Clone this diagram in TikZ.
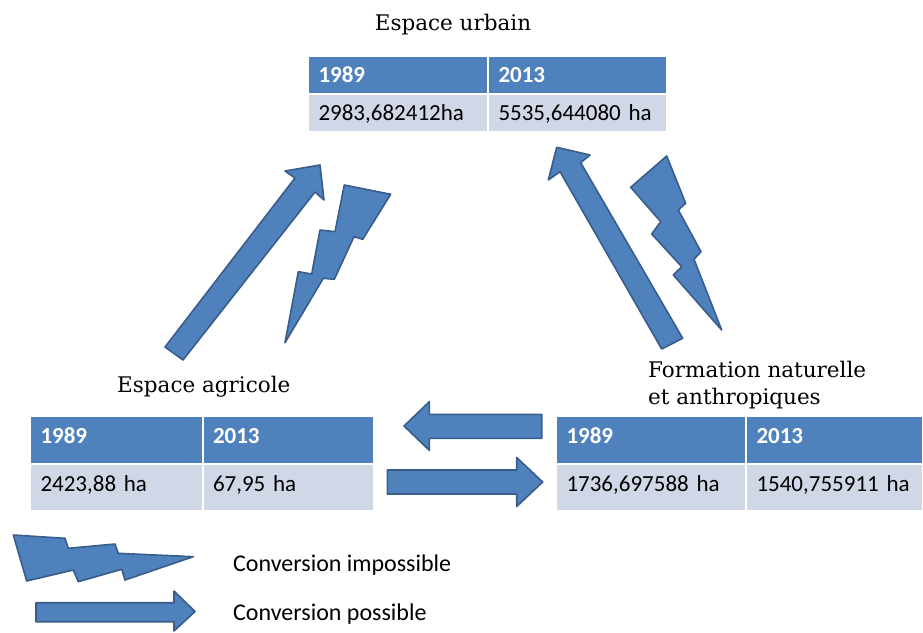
\documentclass[tikz,border=0pt]{standalone}
\usepackage{fontspec}
\setmainfont{DejaVu Serif}
\newfontfamily\calib{Carlito}
\definecolor{arrF}{HTML}{4F81BD}
\definecolor{arrD}{HTML}{385D8A}
\definecolor{bodyC}{HTML}{D0D8E8}
\begin{document}
\begin{tikzpicture}[x=1pt,y=-1pt,
  blk/.style={fill=arrF, draw=arrD, line width=1.6pt, line join=round},
  cellbase/.style={anchor=north west, draw=white, line width=2pt, inner xsep=10.5pt, inner ysep=0pt, align=left},
  hd/.style={cellbase, fill=arrF, text=white, font=\calib\bfseries\fontsize{23}{27}\selectfont},
  bd/.style={cellbase, fill=bodyC, text=black, font=\calib\fontsize{23}{27}\selectfont},
  topc/.style={text height=18pt, text depth=3pt, minimum height=38pt},
  botc/.style={text height=14pt, text depth=6.5pt, minimum height=47.5pt},
  ttl/.style={inner sep=0pt, font=\fontsize{21.5}{24}\selectfont},
  leg/.style={inner sep=0pt, anchor=base west, font=\calib\fontsize{24}{28}\selectfont}]
\useasboundingbox (0,0) rectangle (923,632);

% ---- titles
\node[ttl, anchor=base] (turb) at (453,30) {Espace urbain};
\node[ttl, anchor=base west] (tagr) at (117,392) {Espace agricole};
\node[ttl, anchor=base west] (tfor1) at (648,377) {Formation naturelle};
\node[ttl, anchor=base west] (tfor2) at (648,404) {et anthropiques};

% ---- top table (urbain)
\node[hd, topc, minimum width=180pt, text width=159pt] (uh1) at (307,55) {1989};
\node[hd, topc, minimum width=179pt, text width=158pt] (uh2) at (487,55) {2013};
\node[bd, topc, minimum width=180pt, text width=159pt] (ub1) at (307,93) {2983,682412ha};
\node[bd, topc, minimum width=179pt, text width=158pt] (ub2) at (487,93) {5535,644080 ha};

% ---- left table (agricole)
\node[hd, botc, minimum width=172.5pt, text width=151.5pt] (ah1) at (29,415) {1989};
\node[hd, botc, minimum width=171.5pt, text width=150.5pt] (ah2) at (201.5,415) {2013};
\node[bd, botc, minimum width=172.5pt, text width=151.5pt] (ab1) at (29,462.5) {2423,88 ha};
\node[bd, botc, minimum width=171.5pt, text width=150.5pt] (ab2) at (201.5,462.5) {67,95 ha};

% ---- right table (formation)
\node[hd, botc, minimum width=190pt, text width=169pt] (fh1) at (555,415) {1989};
\node[hd, botc, minimum width=177pt, text width=156pt] (fh2) at (745,415) {2013};
\node[bd, botc, minimum width=190pt, text width=169pt] (fb1) at (555,462.5) {1736,697588 ha};
\node[bd, botc, minimum width=177pt, text width=156pt] (fb2) at (745,462.5) {1540,755911 ha};

% ---- agricole -> urbain (possible)
\draw[blk] (165,347) -- (295,178) -- (285,171) -- (320,165) -- (324,200) -- (315,192) -- (183,360) -- cycle;
% ---- urbain -> agricole (impossible)
\draw[blk] (344.3,185) -- (390.7,194.3) -- (362.7,239.3) -- (354,236.7) -- (334.3,279.3) -- (323.3,278.3)
  -- (285,342.7) -- (298.3,271.7) -- (311.7,274) -- (320,230) -- (335,231.7) -- cycle;

% ---- formation -> urbain (possible)
\draw[blk] (556.7,147.3) -- (590,155) -- (580.7,162.7) -- (682.7,338.3) -- (661.7,349) -- (560,171.7) -- (548.3,180) -- cycle;
% ---- urbain -> formation (impossible)
\draw[blk] (630.7,187.3) -- (666.7,156) -- (685.7,203.3) -- (678.3,210) -- (701,251.7) -- (694,259.3)
  -- (721.7,330) -- (673.3,275) -- (681.7,266.7) -- (651.7,234) -- (660.7,221.7) -- cycle;

% ---- formation -> agricole
\draw[blk] (404,426) -- (429.3,401.7) -- (429.3,414.3) -- (541.7,414.3) -- (541.7,438.3) -- (429.3,438.3) -- (429.3,450.3) -- cycle;
% ---- agricole -> formation
\draw[blk] (387.3,470) -- (516.7,470) -- (516.7,457.5) -- (542.7,482) -- (516.7,506.5) -- (516.7,494) -- (387.3,494) -- cycle;

% ---- legend
\draw[blk] (13.3,535) -- (65,538.3) -- (68.3,548.3) -- (115,544) -- (118.3,553.3) -- (193.3,556.7)
  -- (125,580) -- (121.7,569.3) -- (78.3,581.7) -- (73.3,570) -- (26.7,581) -- cycle;
\draw[blk] (36,602.7) -- (174,602.7) -- (174,591) -- (195,611.5) -- (174,631) -- (174,621.7) -- (36,621.7) -- cycle;
\node[leg] (limp) at (233,571) {Conversion impossible};
\node[leg] (lpos) at (233,620) {Conversion possible};
\end{tikzpicture}
\end{document}
